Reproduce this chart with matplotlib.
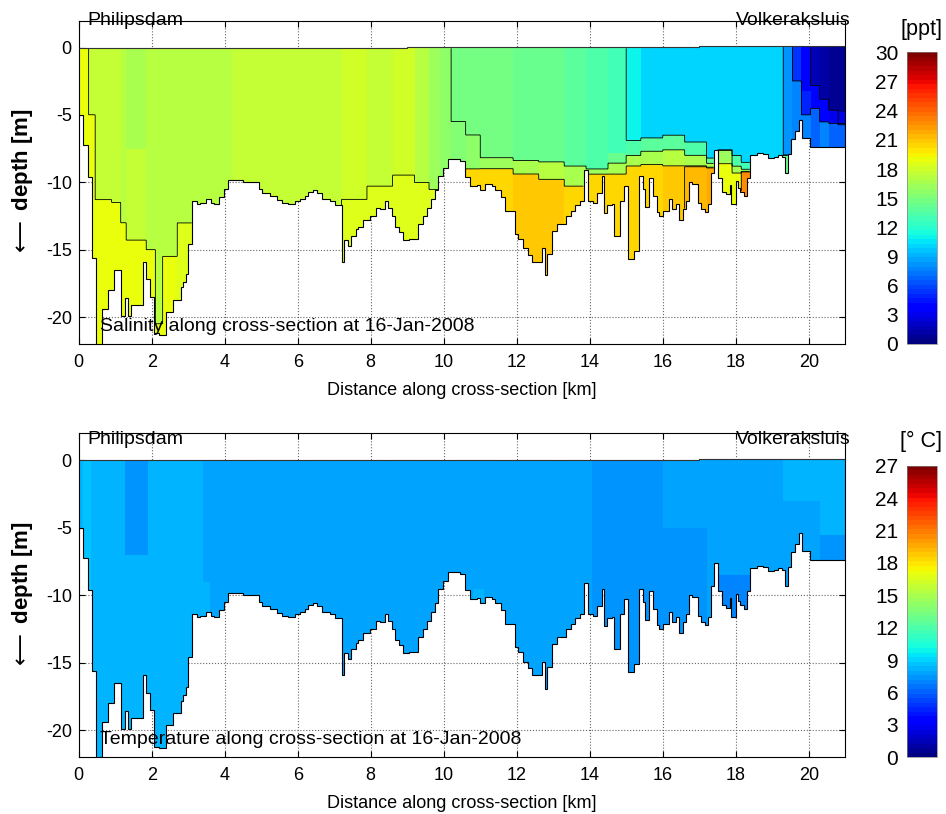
import numpy as np
import matplotlib
matplotlib.use('Agg')
import matplotlib.pyplot as plt

plt.rcParams['font.family'] = ['Liberation Sans', 'DejaVu Sans']
plt.rcParams['axes.unicode_minus'] = False

# bed level: left edge of each cell [km] and bed depth [m]
bed_x = [0.00, 0.13, 0.25, 0.37, 0.48, 0.63, 0.81, 0.97, 1.15, 1.27, 1.36, 1.43, 1.75, 1.85, 1.95,
         2.06, 2.19, 2.40, 2.58, 2.81, 2.87, 2.94, 3.00, 3.10, 3.23, 3.33, 3.49, 3.62, 3.71, 3.84,
         3.98, 4.10, 4.50, 4.93, 5.02, 5.24, 5.42, 5.56, 5.74, 5.92, 6.06, 6.20, 6.29, 6.43, 6.52,
         6.66, 6.88, 7.02, 7.20, 7.27, 7.38, 7.47, 7.59, 7.65, 7.79, 7.97, 8.14, 8.25, 8.39, 8.48,
         8.57, 8.66, 8.78, 8.89, 9.05, 9.30, 9.42, 9.53, 9.64, 9.76, 9.85, 9.99, 10.12, 10.45, 10.58,
         10.72, 10.90, 11.00, 11.13, 11.31, 11.40, 11.56, 11.68, 11.95, 12.04, 12.18, 12.31, 12.43, 12.68, 12.77,
         12.84, 12.96, 13.10, 13.35, 13.48, 13.60, 13.72, 13.83, 13.96, 14.08, 14.21, 14.33, 14.40, 14.47, 14.60,
         14.67, 14.83, 14.94, 15.06, 15.20, 15.36, 15.45, 15.51, 15.63, 15.72, 15.83, 15.91, 16.02, 16.16, 16.25,
         16.36, 16.45, 16.56, 16.63, 16.72, 16.81, 16.97, 17.06, 17.15, 17.24, 17.31, 17.40, 17.51, 17.63, 17.74,
         17.83, 17.88, 18.00, 18.06, 18.12, 18.22, 18.30, 18.39, 18.57, 18.74, 18.87, 19.05, 19.16, 19.27, 19.34,
         19.43, 19.52, 19.63, 19.72, 19.81, 20.04]
bed_z = [-5.0, -7.2, -9.6, -15.6, -23.0, -19.4, -18.0, -16.5, -19.9, -18.6, -19.9, -19.1, -15.9, -17.2, -18.5,
         -21.2, -21.3, -19.6, -18.7, -17.8, -17.4, -16.8, -14.6, -11.4, -11.6, -11.5, -11.2, -11.5, -11.6, -11.1,
         -10.5, -9.8, -10.0, -10.5, -10.8, -11.0, -11.3, -11.5, -11.6, -11.4, -11.2, -11.0, -10.7, -10.6, -10.8,
         -11.2, -11.4, -11.7, -15.9, -14.3, -14.7, -14.0, -13.5, -13.3, -12.8, -12.5, -11.9, -12.0, -11.4, -11.9,
         -12.5, -13.3, -13.7, -14.3, -14.2, -13.1, -12.5, -11.9, -11.2, -10.6, -9.5, -8.9, -8.3, -8.4, -9.6,
         -10.3, -10.2, -10.6, -10.1, -10.3, -10.6, -11.1, -12.1, -13.8, -14.2, -14.9, -15.4, -15.9, -14.9, -16.9,
         -15.3, -13.6, -13.1, -12.5, -12.1, -11.7, -11.4, -9.1, -11.4, -11.5, -10.8, -9.5, -12.3, -11.7, -11.6,
         -14.0, -11.4, -10.3, -15.7, -15.1, -9.5, -10.5, -11.8, -9.7, -11.0, -12.2, -12.5, -12.1, -11.2, -12.0,
         -11.6, -12.8, -12.0, -11.4, -10.0, -10.1, -11.5, -12.0, -12.2, -11.6, -9.3, -7.6, -9.7, -10.7, -10.9,
         -10.2, -11.6, -9.9, -10.4, -10.7, -11.0, -9.7, -8.0, -7.8, -7.9, -8.2, -8.1, -8.0, -8.1, -9.3,
         -7.9, -6.8, -6.2, -5.4, -6.7, -7.4]
x_end = 21.0

# water level
eta_x = [0.0, 9.0, 17.0, 21.0]
eta = [0.0, 0.03, 0.1]

# salinity [ppt], columns with up to four layers; z_k = lower edge of layer k
sal_x = [0.0, 0.13, 0.27, 0.45, 0.9, 1.15, 1.3, 1.85, 2.1, 2.3, 2.7, 3.1, 3.6, 4.2, 5.5, 7.2, 7.9, 8.6,
         9.2, 9.6, 9.9, 10.2, 10.6, 11.0, 11.9, 12.6, 13.3, 13.9, 14.5, 15.0, 15.4, 16.0, 16.6, 17.2,
         17.45, 17.9, 18.15, 18.5, 19.3, 19.55, 19.8, 20.05, 20.3, 20.55, 20.8, 21.0]
sal_1 = [19.2, 18.8, 17.6, 17.6, 17.4, 17.2, 16.8, 17.3, 17.3, 17.3, 17.0, 17.0, 17.3, 17.6, 17.7,
         17.9, 17.7, 17.9, 16.9, 16.1, 15.6, 14.8, 14.7, 14.6, 14.4, 14.1, 13.7, 13.3, 12.7, 10.8,
         10.3, 10.1, 10.0, 10.0, 10.2, 10.0, 10.0, 10.3, 8.3, 5.5, 3.5, 1.5, 1.0, 0.8, 0.6]
z_1 = [-30, -30, -5.0, -11.3, -11.5, -13.0, -7.5, -15.0, -20.5, -15.5, -13.0, -30, -30, -30, -30,
       -11.3, -10.3, -9.5, -10.0, -10.5, -30, -5.5, -6.5, -8.2, -8.4, -8.5, -8.8, -9.0, -7.8, -6.9,
       -6.7, -6.5, -7.0, -8.2, -7.6, -8.0, -8.5, -30, -8.0, -2.5, -3.2, -2.8, -3.8, -4.6, -4.8]
sal_2 = [19.2, 18.8, 18.8, 18.8, 18.8, 18.8, 17.5, 18.8, 18.8, 18.8, 18.6, 17.0, 17.3, 17.6, 17.7,
         18.6, 18.6, 18.7, 18.5, 18.3, 15.6, 15.4, 15.6, 16.4, 16.8, 17.0, 16.8, 16.3, 14.5, 13.5,
         13.6, 13.8, 13.5, 14.0, 16.0, 13.5, 13.0, 10.3, 14.5, 7.5, 5.0, 4.0, 3.5, 3.2, 3.0]
z_2 = [-30, -30, -30, -30, -30, -30, -14.3, -30, -30, -30, -30, -30, -30, -30, -30,
       -30, -30, -30, -30, -30, -30, -30, -9.0, -9.0, -9.4, -9.8, -10.3, -9.4, -8.6, -8.0,
       -7.7, -7.6, -8.0, -8.6, -8.6, -8.8, -9.0, -30, -30, -30, -5.0, -4.5, -5.5, -5.6, -5.7]
sal_3 = [19.2, 18.8, 18.8, 18.8, 18.8, 18.8, 18.8, 18.8, 18.8, 18.8, 18.6, 17.0, 17.3, 17.6, 17.7,
         18.6, 18.6, 18.7, 18.5, 18.3, 15.6, 15.4, 20.4, 20.6, 20.8, 20.7, 20.5, 20.4, 16.5, 16.5,
         16.8, 17.0, 16.8, 16.5, 19.0, 16.5, 15.5, 10.3, 14.5, 7.5, 7.5, 6.8, 7.5, 6.8, 7.0]
z_3 = [-30, -30, -30, -30, -30, -30, -30, -30, -30, -30, -30, -30, -30, -30, -30,
       -30, -30, -30, -30, -30, -30, -30, -30, -30, -30, -30, -30, -30, -9.4, -8.8,
       -8.7, -8.8, -8.8, -8.9, -30, -9.3, -9.2, -30, -30, -30, -30, -30, -30, -30, -30]
sal_4 = [19.2, 18.8, 18.8, 18.8, 18.8, 18.8, 18.8, 18.8, 18.8, 18.8, 18.6, 17.0, 17.3, 17.6, 17.7,
         18.6, 18.6, 18.7, 18.5, 18.3, 15.6, 15.4, 20.4, 20.6, 20.8, 20.7, 20.5, 20.4, 20.4, 20.6,
         20.6, 20.8, 21.3, 22.0, 19.0, 19.0, 22.5, 10.3, 14.5, 7.5, 7.5, 6.8, 7.5, 6.8, 7.0]

# temperature [deg C], columns with two layers
tem_x = [0.0, 0.13, 0.35, 1.27, 1.9, 3.4, 3.6, 10.8, 11.1, 14.05, 16.0, 17.2, 17.5, 18.4, 19.3, 20.3, 21.0]
tem_1 = [8.4, 8.7, 8.1, 7.5, 8.1, 7.7, 7.7, 7.7, 7.7, 7.2, 7.6, 7.6, 7.6, 7.7, 8.1, 8.4]
z_t = [-30, -30, -30, -7.0, -30, -9.0, -30, -9.5, -30, -30, -5.0, -30, -8.5, -30, -3.0, -5.5]
tem_2 = [8.4, 8.7, 8.1, 8.1, 8.1, 8.1, 7.7, 8.1, 7.7, 7.2, 7.2, 7.6, 6.9, 7.7, 7.7, 7.2]

# fine grid for drawing
xg = np.linspace(0, x_end, 2101)
zg = np.arange(-23.0, 0.25, 0.1)
xc = 0.5 * (xg[1:] + xg[:-1])
zc = 0.5 * (zg[1:] + zg[:-1])
Z = zc[:, None]


def column(edges):
    return np.clip(np.searchsorted(edges, xc, side='right') - 1, 0, len(edges) - 2)


def layered(edges, values, depths):
    col = column(edges)
    values = [np.asarray(v, float)[col] for v in values]
    depths = [np.asarray(d, float)[col] for d in depths]
    out = np.broadcast_to(values[-1], (len(zc), len(xc))).copy()
    for v, d in zip(values[-2::-1], depths[::-1]):
        out = np.where(Z > d, v, out)
    bed = np.asarray(bed_z)[column(bed_x + [x_end])]
    surf = np.asarray(eta)[column(eta_x)]
    return np.ma.masked_where((Z < bed) | (Z > surf), out)


sal = layered(sal_x, [sal_1, sal_2, sal_3, sal_4], [z_1, z_2, z_3])
tem = layered(tem_x, [tem_1, tem_2], [z_t])

cmap = plt.get_cmap('jet', 64)

fig = plt.figure(figsize=(9.46, 8.14), dpi=100)
ax1 = fig.add_axes([0.0832, 0.5774, 0.8103, 0.3972])
ax2 = fig.add_axes([0.0832, 0.0696, 0.8103, 0.3980])
cax1 = fig.add_axes([0.9584, 0.5774, 0.0323, 0.3583])
cax2 = fig.add_axes([0.9584, 0.0696, 0.0323, 0.3583])

panels = [(ax1, cax1, sal, 30, 'Salinity', '[ppt]', 1.68, 1 - 29 / 814),
          (ax2, cax2, tem, 27, 'Temperature', '[° C]', 1.19, 1 - 441 / 814)]

for ax, cax, field, vmax, name, unit, ytxt, yunit in panels:
    m = ax.pcolormesh(xg, zg, field, cmap=cmap, vmin=0, vmax=vmax, shading='flat', zorder=1)
    if name == 'Salinity':
        ax.contour(xc, zc, field, levels=np.arange(3, 30, 3), colors='k', linewidths=0.6, zorder=2)
    ax.stairs(bed_z, bed_x + [x_end], baseline=None, color='k', lw=0.8, zorder=3)
    ax.stairs(eta, eta_x, baseline=None, color='0.2', lw=0.8, zorder=3)

    ax.set_xlim(0, 21)
    ax.set_ylim(-22, 2)
    ax.set_xticks(range(0, 21, 2))
    ax.set_yticks([-20, -15, -10, -5, 0])
    ax.grid(True, linestyle=':', color='0.4', lw=0.8)
    ax.set_axisbelow(True)
    ax.tick_params(direction='in', top=True, right=True, labelsize=13, length=4)
    ax.tick_params(axis='x', pad=7)
    ax.tick_params(axis='y', pad=5)
    for s in ax.spines.values():
        s.set_linewidth(0.8)
    ax.set_xlabel('Distance along cross-section [km]', fontsize=13, labelpad=8)
    ax.set_ylabel(r'$\longleftarrow$ depth [m]', fontsize=16, fontweight='bold', labelpad=8)

    ax.text(0.25, ytxt, 'Philipsdam', fontsize=14, va='baseline', ha='left')
    ax.text(21.15, ytxt, 'Volkeraksluis', fontsize=14, va='baseline', ha='right')
    ax.text(0.57, -20.7, name + ' along cross-section at 16-Jan-2008', fontsize=14,
            va='center', ha='left', zorder=5)

    cb = fig.colorbar(m, cax=cax, ticks=range(0, vmax + 1, 3))
    cax.yaxis.set_ticks_position('left')
    cax.yaxis.set_label_position('left')
    cax.tick_params(labelsize=15, length=0, pad=6)
    cb.outline.set_edgecolor('0.5')
    cb.outline.set_linewidth(0.5)
    fig.text(921 / 946, yunit, unit, fontsize=15.5, ha='center', va='center')

fig.savefig('out.png', dpi=100)
